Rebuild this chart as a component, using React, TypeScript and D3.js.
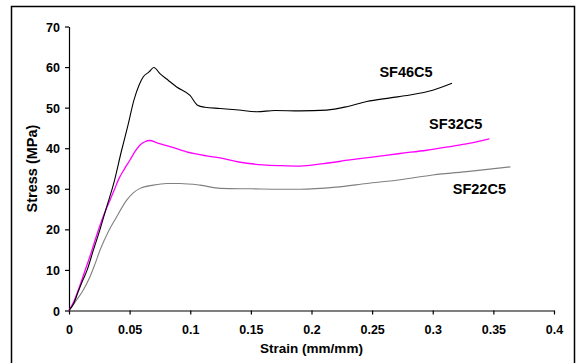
import React, { useEffect, useRef } from 'react'
import * as d3 from 'd3'

// strain (mm/mm) / stress (MPa)
const sf46Strain = [0, 0.004, 0.0074, 0.011, 0.015, 0.02, 0.0256, 0.031, 0.0366, 0.0434, 0.0485, 0.0536, 0.058, 0.0613, 0.066, 0.07, 0.075, 0.082, 0.0888, 0.0998, 0.106, 0.112, 0.1245, 0.14, 0.155, 0.17, 0.1905, 0.2125, 0.23, 0.2455, 0.265, 0.281, 0.3, 0.3159]
const sf46Stress = [0, 1.8, 4.5, 7.2, 10, 14.8, 20, 25.5, 31, 39.5, 45.5, 51.9, 55.7, 57.6, 58.8, 59.9, 58.4, 56.7, 55.1, 53.0, 50.6, 50.1, 49.8, 49.4, 49.0, 49.3, 49.2, 49.4, 50.3, 51.5, 52.4, 53.1, 54.3, 56.0]

const sf32Strain = [0, 0.004, 0.008, 0.0132, 0.018, 0.0242, 0.029, 0.0338, 0.0375, 0.0407, 0.0455, 0.0503, 0.0545, 0.0586, 0.0625, 0.0668, 0.072, 0.0833, 0.097, 0.1136, 0.1245, 0.14, 0.16, 0.175, 0.1905, 0.21, 0.2317, 0.25, 0.273, 0.295, 0.3142, 0.33, 0.3467]
const sf32Stress = [0, 2.2, 5.3, 9.8, 14.0, 19.8, 23.8, 27.2, 29.8, 32.2, 34.8, 37.1, 39.2, 40.8, 41.6, 41.9, 41.4, 40.4, 39.1, 38.1, 37.6, 36.6, 35.9, 35.7, 35.6, 36.2, 37.1, 37.8, 38.7, 39.5, 40.4, 41.2, 42.3]

const sf22Strain = [0, 0.0063, 0.0118, 0.0173, 0.0215, 0.0256, 0.0325, 0.0393, 0.0435, 0.0476, 0.053, 0.0586, 0.0695, 0.0806, 0.0915, 0.108, 0.125, 0.15, 0.175, 0.1905, 0.22, 0.2455, 0.275, 0.3, 0.33, 0.364]
const sf22Stress = [0, 2.6, 5.05, 8.3, 11.5, 14.9, 19.5, 23.1, 25.3, 27.2, 29.0, 30.1, 30.9, 31.3, 31.3, 30.9, 30.1, 30.0, 29.9, 29.9, 30.4, 31.3, 32.3, 33.4, 34.3, 35.4]

const seriesNames = ['SF46C5', 'SF32C5', 'SF22C5']
const seriesColors = ['#000000', '#ff00ff', '#808080']
// label anchor points in data units
const labelStrain = [0.256, 0.297, 0.3165]
const labelStress = [57.5, 44.7, 28.7]

const xTicks = [0, 0.05, 0.1, 0.15, 0.2, 0.25, 0.3, 0.35, 0.4]
const yTicks = [0, 10, 20, 30, 40, 50, 60, 70]

const W = 579
const H = 363
const font = '"Liberation Sans", Arial, sans-serif'

export default function App() {
  const ref = useRef<SVGSVGElement>(null)

  useEffect(() => {
    const svg = d3.select(ref.current)
    svg.selectAll('*').remove()

    const x = d3.scaleLinear().domain([0, 0.4]).range([69, 554])
    const y = d3.scaleLinear().domain([0, 70]).range([310.5, 26.5])

    // outer frame
    svg.append('rect')
      .attr('x', 11.5).attr('y', 6.5)
      .attr('width', 563).attr('height', 370)
      .attr('fill', 'white').attr('stroke', 'black').attr('stroke-width', 1.5)

    const xAxis = svg.append('g')
      .attr('transform', `translate(0,${y(0)})`)
      .call(d3.axisBottom(x).tickValues(xTicks).tickSize(4).tickSizeOuter(0)
        .tickFormat(d => String(+d)))
    const yAxis = svg.append('g')
      .attr('transform', `translate(${x(0)},0)`)
      .call(d3.axisLeft(y).tickValues(yTicks).tickSize(4).tickSizeOuter(0)
        .tickFormat(d => String(d)))

    ;[xAxis, yAxis].forEach(a => {
      a.selectAll('path, line').attr('stroke', 'black').attr('stroke-width', 1.2)
      a.selectAll('text')
        .attr('fill', 'black')
        .style('font-family', font)
        .style('font-size', '12.5px')
        .style('font-weight', 'bold')
    })
    xAxis.selectAll('text').attr('y', 0).attr('dy', 0).attr('transform', 'translate(0,23.5)')
    yAxis.selectAll('text').attr('x', -9).attr('dy', '0.36em')

    const series = [
      sf46Strain.map((s, i) => [s, sf46Stress[i]]),
      sf32Strain.map((s, i) => [s, sf32Stress[i]]),
      sf22Strain.map((s, i) => [s, sf22Stress[i]]),
    ]

    const line = d3.line<number[]>()
      .x(d => x(d[0]))
      .y(d => y(d[1]))
      .curve(d3.curveMonotoneX)

    // draw gray first so black sits on top
    ;[2, 1, 0].forEach(i => {
      svg.append('path')
        .attr('d', line(series[i]))
        .attr('fill', 'none')
        .attr('stroke', seriesColors[i])
        .attr('stroke-width', i === 1 ? 1.3 : 1.1)
    })

    seriesNames.forEach((name, i) => {
      svg.append('text')
        .text(name)
        .attr('x', x(labelStrain[i]))
        .attr('y', y(labelStress[i]))
        .attr('fill', 'black')
        .style('font-family', font)
        .style('font-size', '14.5px')
        .style('font-weight', 'bold')
    })

    svg.append('text')
      .text('Strain (mm/mm)')
      .attr('x', (x(0) + x(0.4)) / 2)
      .attr('y', 353)
      .attr('text-anchor', 'middle')
      .style('font-family', font)
      .style('font-size', '13.5px')
      .style('font-weight', 'bold')

    svg.append('text')
      .text('Stress (MPa)')
      .attr('transform', `translate(36.5,${(y(0) + y(70)) / 2}) rotate(-90)`)
      .attr('text-anchor', 'middle')
      .style('font-family', font)
      .style('font-size', '14.5px')
      .style('font-weight', 'bold')
  }, [])

  return (
    <svg ref={ref} width={W} height={H}
      style={{ position: 'absolute', left: 0, top: 0, background: 'white' }} />
  )
}
